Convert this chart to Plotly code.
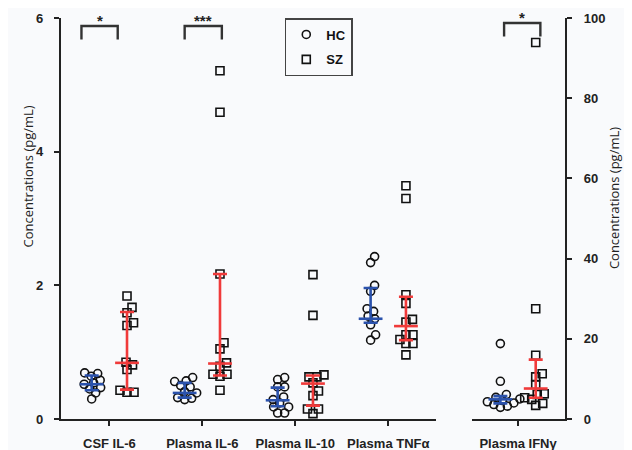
import plotly.graph_objects as go

# ---------------- data (pg/mL) ----------------
categories = ["CSF IL-6", "Plasma IL-6", "Plasma IL-10", "Plasma TNFα"]
right_categories = ["Plasma IFNγ"]

hc_values = [
    [0.69, 0.68, 0.64, 0.58, 0.54, 0.52, 0.47, 0.45, 0.39, 0.30],
    [0.62, 0.57, 0.56, 0.50, 0.48, 0.41, 0.39, 0.32, 0.31, 0.29],
    [0.62, 0.59, 0.48, 0.48, 0.33, 0.29, 0.24, 0.18, 0.18, 0.09, 0.09],
    [2.43, 2.34, 2.00, 1.91, 1.65, 1.61, 1.54, 1.50, 1.41, 1.26, 1.18],
]
sz_values = [
    [1.84, 1.67, 1.59, 1.44, 1.40, 0.85, 0.81, 0.74, 0.43, 0.40, 0.40],
    [5.21, 4.59, 2.17, 1.14, 1.05, 0.84, 0.79, 0.67, 0.67, 0.64, 0.43],
    [2.16, 1.55, 0.66, 0.63, 0.63, 0.54, 0.42, 0.35, 0.15, 0.15, 0.08],
    [3.49, 3.30, 1.86, 1.73, 1.49, 1.45, 1.26, 1.26, 1.19, 1.13, 1.13, 0.96],
]
hc_median = [0.52, 0.39, 0.28, 1.50]
hc_q1 = [0.43, 0.32, 0.19, 1.44]
hc_q3 = [0.65, 0.54, 0.47, 1.96]
sz_median = [0.84, 0.83, 0.53, 1.39]
sz_q1 = [0.44, 0.65, 0.20, 1.18]
sz_q3 = [1.60, 2.17, 0.65, 1.83]

ifng_hc = [18.8, 9.4, 6.1, 5.4, 5.0, 4.6, 4.3, 4.0, 3.6, 3.2, 2.9]
ifng_sz = [93.9, 27.5, 15.9, 11.3, 10.5, 8.6, 6.3, 6.1, 5.3, 4.9, 3.9, 3.4]
ifng_hc_stats = [4.9, 3.9, 5.7]   # median, q1, q3
ifng_sz_stats = [7.6, 5.3, 14.8]

left_ticks = [0, 2, 4, 6]
right_ticks = [0, 20, 40, 60, 80, 100]
significance = [("CSF IL-6", "*"), ("Plasma IL-6", "***")]
significance_right = [("Plasma IFNγ", "*")]

# ---------------- styling ----------------
BG = "#f9fafc"
AX = "#222222"
BLUE = "#2b52ac"
RED = "#f03a3a"
PX_PER_X = 93.0          # pixels per category unit
PX_PER_Y_LEFT = 66.9
PX_PER_Y_RIGHT = 4.012
GROUP_OFF = 0.19


def swarm(vals, ppu, d=7.0):
    """simple beeswarm: horizontal offsets (in category units)"""
    placed = []
    offs = [0.0] * len(vals)
    for i in sorted(range(len(vals)), key=lambda j: vals[j]):
        y = vals[i] * ppu
        chosen = 0.0
        for k in range(0, 80):
            found = False
            for sgn in ([1] if k == 0 else [1, -1]):
                x = sgn * k * 0.5
                if all((x - px) ** 2 + (y - py) ** 2 >= d * d for px, py in placed):
                    chosen = x
                    found = True
                    break
            if found:
                break
        placed.append((chosen, y))
        offs[i] = chosen / PX_PER_X
    return offs


fig = go.Figure()


def add_group(center, vals, ppu, name, symbol, xa, ya, show):
    offs = swarm(vals, ppu)
    fig.add_trace(go.Scatter(
        x=[center + o for o in offs], y=vals, mode="markers", name=name,
        xaxis=xa, yaxis=ya, showlegend=show, legendgroup=name,
        marker=dict(symbol=symbol, size=8, color="#111111", line=dict(width=1.6)),
        hoverinfo="skip"))


def add_stats(center, med, q1, q3, color, xa, ya):
    fig.add_trace(go.Scatter(
        x=[center], y=[med], mode="markers", xaxis=xa, yaxis=ya, showlegend=False,
        marker=dict(symbol="line-ew", size=17, color=color, line=dict(width=2.6, color=color)),
        error_y=dict(type="data", symmetric=False, array=[q3 - med], arrayminus=[med - q1],
                     color=color, thickness=2.6, width=7),
        hoverinfo="skip"))


for i, cat in enumerate(categories):
    c = i + 1
    add_group(c - GROUP_OFF, hc_values[i], PX_PER_Y_LEFT, "HC", "circle-open", "x", "y", i == 0)
    add_group(c + GROUP_OFF, sz_values[i], PX_PER_Y_LEFT, "SZ", "square-open", "x", "y", i == 0)
for i, cat in enumerate(categories):
    c = i + 1
    add_stats(c - GROUP_OFF, hc_median[i], hc_q1[i], hc_q3[i], BLUE, "x", "y")
    add_stats(c + GROUP_OFF, sz_median[i], sz_q1[i], sz_q3[i], RED, "x", "y")

add_group(1 - GROUP_OFF, ifng_hc, PX_PER_Y_RIGHT, "HC", "circle-open", "x2", "y2", False)
add_group(1 + GROUP_OFF, ifng_sz, PX_PER_Y_RIGHT, "SZ", "square-open", "x2", "y2", False)
add_stats(1 - GROUP_OFF, *ifng_hc_stats, BLUE, "x2", "y2")
add_stats(1 + GROUP_OFF, *ifng_sz_stats, RED, "x2", "y2")

# significance brackets
bracket_span = {"CSF IL-6": (-0.30, 0.09), "Plasma IL-6": (-0.19, 0.21), "Plasma IFNγ": (-0.15, 0.24)}


def bracket(center, label, xr, yr, ytop, ybot, lo, hi):
    x0, x1 = center + lo, center + hi
    fig.add_shape(type="path", xref=xr, yref=yr,
                  path=f"M {x0},{ybot} L {x0},{ytop} L {x1},{ytop} L {x1},{ybot}",
                  line=dict(color="#333333", width=2.4))
    fig.add_annotation(x=(x0 + x1) / 2, y=ytop, xref=xr, yref=yr, text=f"<b>{label}</b>",
                       showarrow=False, yanchor="bottom", yshift=-5,
                       font=dict(family="Liberation Sans", size=15, color="#222"))


for cat, lab in significance:
    c = categories.index(cat) + 1
    lo, hi = bracket_span[cat]
    bracket(c, lab, "x", "y", 5.88, 5.68, lo, hi)
for cat, lab in significance_right:
    lo, hi = bracket_span[cat]
    bracket(1, lab, "x2", "y2", 98.75, 95.4, lo, hi)

axis_common = dict(showline=True, linecolor=AX, linewidth=2.2, ticks="outside", ticklen=5,
                   tickwidth=2.2, tickcolor=AX, showgrid=False, zeroline=False, automargin=False,
                   tickfont=dict(family="Liberation Sans", size=13, color="#222", weight="bold"))

# page body has an 8px margin: figure is 624x442 so it ends at the window edge
fig.update_layout(
    width=624, height=442,
    margin=dict(l=53, r=67, t=10, b=31, autoexpand=False),
    paper_bgcolor=BG, plot_bgcolor=BG,
    xaxis=dict(domain=[0, 0.744], range=[0.48, 4.513], tickvals=[1, 2, 3, 4], ticktext=categories,
               anchor="y", ticklabelstandoff=6, **axis_common),
    xaxis2=dict(domain=[0.8155, 1], range=[0.505, 1.505], tickvals=[1], ticktext=right_categories,
                anchor="y2", ticklabelstandoff=6, **axis_common),
    yaxis=dict(range=[0, 6], tickvals=left_ticks, anchor="x", ticklabelstandoff=8, **axis_common),
    yaxis2=dict(range=[0, 100], tickvals=right_ticks, anchor="x2", side="right",
                ticklabelstandoff=9, **axis_common),
    legend=dict(x=0.444, y=1.0, xanchor="left", yanchor="top", bgcolor=BG,
                bordercolor="#444", borderwidth=1.5,
                font=dict(family="Liberation Sans", size=13, color="#111", weight="bold"),
                tracegroupgap=5, itemsizing="trace"),
    showlegend=True,
)

fig.add_annotation(text="Concentrations (pg/mL)", xref="paper", yref="paper", x=-0.087, y=0.605,
                   textangle=-90, showarrow=False,
                   font=dict(family="Open Sans", size=13, color="#222"))
fig.add_annotation(text="Concentrations (pg/mL)", xref="paper", yref="paper", x=1.118, y=0.552,
                   textangle=-90, showarrow=False,
                   font=dict(family="Open Sans", size=13, color="#222"))

fig.write_html("out.html")
